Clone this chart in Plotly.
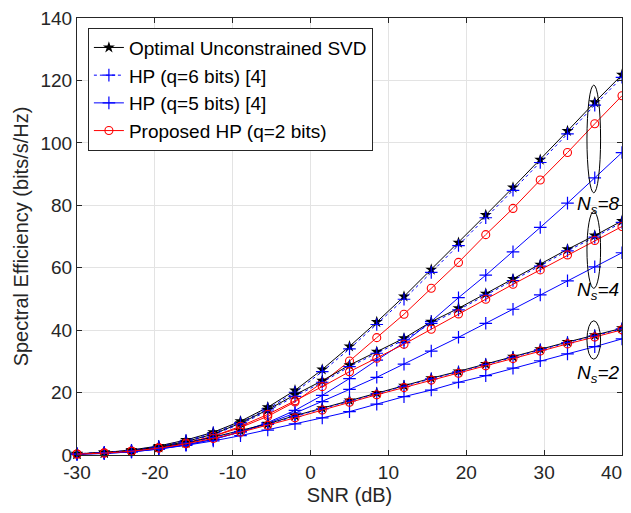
import plotly.graph_objects as go

snr = [-30, -26.5, -23, -19.5, -16, -12.5, -9, -5.5, -2, 1.5, 5, 8.5, 12, 15.5,
       19, 22.5, 26, 29.5, 33, 36.5, 40]

svd_ns8 = [0.4, 0.8, 1.6, 2.9, 4.8, 7.3, 10.8, 15.3, 20.7, 27.4, 34.8, 42.6, 50.8,
           59.4, 68.0, 76.9, 85.7, 94.6, 103.8, 113.0, 121.8]
hp6_ns8 = [0.4, 0.8, 1.5, 2.8, 4.6, 7.1, 10.4, 14.8, 20.1, 26.7, 34.0, 41.8, 49.9,
           58.5, 67.1, 76.0, 84.8, 93.7, 102.9, 112.1, 121.0]
hp5_ns8 = [0.3, 0.6, 1.1, 2.0, 3.3, 5.0, 7.4, 10.4, 14.3, 19.1, 24.5, 30.4, 36.0,
           42.8, 50.4, 57.6, 65.1, 72.9, 80.7, 88.8, 96.9]
prop_ns8 = [0.3, 0.7, 1.3, 2.4, 3.9, 6.0, 8.8, 12.4, 17.0, 23.2, 30.1, 37.6, 45.1,
            53.4, 61.7, 70.6, 79.0, 88.1, 96.9, 106.1, 115.1]

svd_ns4 = [0.35, 0.7, 1.4, 2.6, 4.3, 6.7, 10.2, 14.5, 19.3, 23.8, 28.8, 33.1, 37.4,
           42.7, 47.0, 51.7, 56.4, 61.0, 65.9, 70.3, 75.0]
hp6_ns4 = [0.35, 0.7, 1.3, 2.5, 4.2, 6.5, 9.9, 14.1, 18.8, 23.3, 28.3, 32.6, 36.9,
           42.2, 46.5, 51.2, 55.9, 60.5, 65.4, 69.8, 74.5]
hp5_ns4 = [0.25, 0.5, 1.0, 1.9, 3.2, 5.0, 7.4, 10.2, 13.4, 17.1, 21.0, 24.9, 29.1,
           33.3, 37.7, 42.2, 46.7, 51.3, 55.8, 60.3, 64.8]
prop_ns4 = [0.3, 0.6, 1.2, 2.2, 3.7, 6.0, 9.2, 13.0, 17.4, 21.9, 26.7, 31.0, 35.5,
            40.3, 45.2, 49.9, 54.7, 59.3, 64.1, 68.7, 73.2]

svd_ns2 = [0.3, 0.7, 1.3, 2.4, 3.9, 5.7, 7.8, 10.0, 12.6, 15.0, 17.5, 19.9, 22.2,
           24.6, 26.8, 29.2, 31.5, 33.9, 36.2, 38.4, 40.6]
hp6_ns2 = [0.3, 0.7, 1.3, 2.3, 3.8, 5.6, 7.6, 9.8, 12.4, 14.8, 17.3, 19.7, 22.0,
           24.4, 26.6, 29.0, 31.3, 33.7, 36.0, 38.2, 40.4]
hp5_ns2 = [0.25, 0.5, 1.0, 1.9, 3.1, 4.5, 6.2, 8.0, 10.0, 11.9, 13.9, 16.3, 18.7,
           20.8, 23.3, 25.4, 27.8, 30.2, 32.4, 34.7, 37.2]
prop_ns2 = [0.3, 0.6, 1.2, 2.2, 3.6, 5.3, 7.3, 9.5, 11.9, 14.4, 16.9, 19.3, 21.6,
            24.0, 26.2, 28.6, 30.9, 33.3, 35.6, 37.8, 40.1]

legend_names = ["Optimal Unconstrained SVD", "HP (q=6 bits) [4]",
                "HP (q=5 bits) [4]", "Proposed HP (q=2 bits)"]

x_ticks = [-30, -20, -10, 0, 10, 20, 30, 40]
x_tick_labels = ["-30", "-20", "-10", "0", "10", "20", "30", "40"]
y_ticks = [0, 20, 40, 60, 80, 100, 120, 140]

# ellipse groups: (x0, x1, y0, y1) and labels
ellipses = [(35.5, 37.25, 84.0, 118.5), (35.5, 37.25, 53.4, 78.0), (35.5, 37.25, 30.7, 43.0)]
ns_labels = ["8", "4", "2"]
ns_label_y = [80.0, 52.5, 26.0]

FONT = "Liberation Sans, Arial, Helvetica, sans-serif"

cross = dict(symbol="cross-thin-open", size=9, color="blue", line=dict(width=1.2, color="blue"))
styles = [
    dict(line=dict(color="black", width=1), marker=dict(symbol="star", size=9, color="black")),
    dict(line=dict(color="blue", width=1, dash="dot"), marker=cross),
    dict(line=dict(color="blue", width=1), marker=cross),
    dict(line=dict(color="red", width=1),
         marker=dict(symbol="circle-open", size=8, color="red", line=dict(width=1.1, color="red"))),
]

groups = [
    [svd_ns8, hp6_ns8, hp5_ns8, prop_ns8],
    [svd_ns4, hp6_ns4, hp5_ns4, prop_ns4],
    [svd_ns2, hp6_ns2, hp5_ns2, prop_ns2],
]

fig = go.Figure()
for gi, grp in enumerate(groups):
    for si, ys in enumerate(grp):
        fig.add_trace(go.Scatter(
            x=snr, y=ys, mode="lines+markers", name=legend_names[si],
            legendgroup=legend_names[si], showlegend=(gi == 0),
            cliponaxis=False, legendrank=si + 1, **styles[si]))

for (x0, x1, y0, y1) in ellipses:
    fig.add_shape(type="circle", xref="x", yref="y", x0=x0, x1=x1, y0=y0, y1=y1,
                  line=dict(color="black", width=1))

for lab, yv in zip(ns_labels, ns_label_y):
    fig.add_annotation(x=40, y=yv, xref="x", yref="y", xanchor="right", yanchor="middle",
                       xshift=-1, showarrow=False,
                       text="<i>N</i><sub><i>s</i></sub><i>=" + lab + "</i>",
                       font=dict(family=FONT, size=19, color="black"))

# the last x label sits at the window edge; pad it so it is not clipped
shown_x_labels = x_tick_labels[:-1] + [x_tick_labels[-1] + "\u00a0" * 4]

axis_common = dict(showgrid=True, gridcolor="#e3e3e3", gridwidth=1,
                   showline=True, linecolor="#262626", linewidth=1, mirror="ticks",
                   ticks="inside", ticklen=5, tickcolor="#262626", zeroline=False,
                   ticklabeloverflow="allow", automargin=False,
                   tickfont=dict(family=FONT, size=19, color="#262626"))

# page body has an 8px margin: place the plot area where the reference has it
fig.update_layout(
    width=623, height=505,
    margin=dict(l=69, r=9, t=10, b=58),
    paper_bgcolor="white", plot_bgcolor="white",
    showlegend=True,
    legend=dict(x=0.02, y=0.978, xanchor="left", yanchor="top",
                bgcolor="white", bordercolor="#262626", borderwidth=1,
                font=dict(family=FONT, size=19, color="black"),
                tracegroupgap=0, itemwidth=30),
    xaxis=dict(range=[-30, 40], tickvals=x_ticks, ticktext=shown_x_labels,
               title=dict(text="SNR (dB)", font=dict(family=FONT, size=20, color="#262626"), standoff=6),
               **axis_common),
    yaxis=dict(range=[0, 140], tickvals=y_ticks,
               title=dict(text="Spectral Efficiency (bits/s/Hz)", font=dict(family=FONT, size=20, color="#262626"), standoff=6),
               **axis_common),
)

fig.write_html("out.html")
